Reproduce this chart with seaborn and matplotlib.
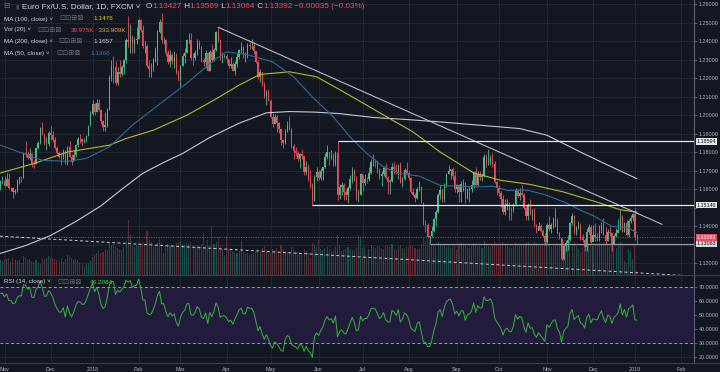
import numpy as np
import pandas as pd
import seaborn as sns
import matplotlib.pyplot as plt
from matplotlib.lines import Line2D

# EUR/USD daily (FXCM), 30 Oct 2017 .. 3 Jan 2019, prices in pips: 1645 -> 1.1645
first_open = 1607
close_pips = (
    [1645, 1646] +
    [1620, 1655, 1608, 1609, 1586, 1591, 1642, 1664, 1663, 1795, 1793, 1770, 1792, 1737, 1736, 1821, 1851, 1933, 1896, 1843, 1846, 1904] +
    [1893, 1866, 1825, 1796, 1774, 1772, 1804, 1743, 1828, 1776, 1749, 1784, 1838, 1874, 1872, 1858, 1859, 1888, 1942, 2005] +
    [2059, 2016, 2067, 2030, 1967, 1937, 1950, 2034, 2200, 2264, 2262, 2177, 2236, 2222, 2261, 2300, 2409, 2396, 2427, 2385, 2409, 2413] +
    [2513, 2461, 2372, 2373, 2265, 2249, 2255, 2294, 2352, 2450, 2505, 2406, 2407, 2337, 2287, 2328, 2295, 2317, 2233, 2192] +
    [2268, 2318, 2336, 2408, 2409, 2312, 2309, 2335, 2391, 2371, 2301, 2290, 2337, 2241, 2340, 2300, 2353, 2448, 2406, 2307, 2321, 2322] +
    [2302, 2266, 2277, 2240, 2279, 2317, 2355, 2369, 2327, 2329, 2381, 2372, 2375, 2348, 2289, 2208, 2234, 2162, 2103, 2130, 2078] +
    [1991, 1953, 1990, 1960, 1923, 1864, 1850, 1917, 1941, 1925, 1835, 1809, 1796, 1766, 1790, 1779, 1694, 1720, 1655, 1622, 1538, 1664, 1692] +
    [1659, 1696, 1718, 1772, 1800, 1770, 1781, 1743, 1794, 1569, 1610, 1625, 1585, 1571, 1609, 1656, 1701, 1652, 1557, 1568, 1684] +
    [1633, 1656, 1655, 1689, 1745, 1748, 1742, 1706, 1670, 1684, 1713, 1660, 1640, 1643, 1720, 1711, 1685, 1729, 1637, 1657, 1702, 1690] +
    [1658, 1584, 1567, 1553, 1600, 1610, 1525, 1411, 1405, 1343, 1346, 1376, 1437, 1479, 1570, 1595, 1539, 1622, 1680, 1701, 1707, 1669, 1601] +
    [1622, 1584, 1627, 1627, 1553, 1595, 1602, 1625, 1691, 1625, 1684, 1668, 1670, 1775, 1749, 1751, 1765, 1739, 1639, 1604] +
    [1578, 1549, 1478, 1513, 1522, 1491, 1490, 1521, 1595, 1561, 1580, 1571, 1501, 1453, 1512, 1465, 1467, 1405, 1375, 1401, 1374, 1345, 1312] +
    [1408, 1385, 1407, 1430, 1433, 1362, 1335, 1224, 1291, 1311, 1325, 1419, 1456, 1369, 1389, 1402, 1339, 1328, 1290, 1369, 1394, 1317] +
    [1352, 1343, 1340, 1376, 1406, 1353, 1318, 1368, 1364, 1305, 1347, 1361, 1379, 1450, 1371, 1418, 1354, 1430, 1443, 1466] +
    [1343, 1339]
)
high_pips = (
    [1652, 1670] +
    [1669, 1688, 1680, 1613, 1613, 1601, 1653, 1668, 1669, 1800, 1861, 1804, 1821, 1796, 1756, 1831, 1859, 1937, 1961, 1899, 1884, 1915] +
    [1940, 1913, 1883, 1836, 1804, 1795, 1816, 1811, 1834, 1863, 1792, 1812, 1844, 1880, 1898, 1878, 1875, 1894, 1949, 2023] +
    [2082, 2066, 2089, 2090, 2035, 1976, 2017, 2037, 2219, 2297, 2323, 2296, 2261, 2297, 2274, 2306, 2416, 2537, 2494, 2436, 2422, 2476] +
    [2523, 2518, 2486, 2404, 2386, 2298, 2281, 2307, 2370, 2461, 2520, 2555, 2424, 2415, 2355, 2354, 2335, 2350, 2336, 2247] +
    [2273, 2336, 2365, 2414, 2446, 2447, 2337, 2355, 2413, 2407, 2376, 2309, 2355, 2342, 2351, 2388, 2365, 2455, 2476, 2411, 2340, 2330] +
    [2329, 2305, 2317, 2290, 2292, 2336, 2361, 2396, 2377, 2343, 2392, 2397, 2414, 2395, 2350, 2298, 2251, 2236, 2182, 2135, 2140] +
    [2086, 2011, 2008, 2000, 1966, 1927, 1872, 1927, 1967, 1996, 1930, 1842, 1831, 1806, 1798, 1817, 1781, 1750, 1736, 1702, 1635, 1675, 1722] +
    [1706, 1716, 1722, 1796, 1840, 1802, 1812, 1796, 1808, 1859, 1628, 1639, 1631, 1601, 1619, 1675, 1719, 1710, 1674, 1597, 1690] +
    [1675, 1681, 1665, 1719, 1765, 1791, 1766, 1757, 1716, 1696, 1723, 1743, 1672, 1653, 1742, 1747, 1738, 1739, 1747, 1665, 1713, 1746] +
    [1701, 1667, 1609, 1577, 1611, 1643, 1619, 1532, 1434, 1415, 1350, 1402, 1445, 1486, 1581, 1622, 1601, 1635, 1690, 1733, 1710, 1718, 1700] +
    [1627, 1629, 1644, 1655, 1641, 1608, 1613, 1649, 1700, 1722, 1696, 1697, 1689, 1788, 1791, 1815, 1786, 1794, 1750, 1647] +
    [1623, 1588, 1571, 1546, 1547, 1531, 1506, 1527, 1609, 1600, 1606, 1621, 1578, 1510, 1528, 1546, 1494, 1497, 1413, 1424, 1412, 1384, 1362] +
    [1420, 1456, 1419, 1448, 1500, 1443, 1369, 1337, 1302, 1326, 1354, 1422, 1472, 1461, 1401, 1429, 1418, 1360, 1338, 1388, 1411, 1405] +
    [1406, 1419, 1364, 1407, 1424, 1443, 1394, 1384, 1403, 1370, 1358, 1392, 1440, 1487, 1460, 1421, 1432, 1439, 1458, 1470] +
    [1497, 1357]
)
low_pips = (
    [1598, 1628] +
    [1613, 1618, 1603, 1589, 1554, 1573, 1587, 1628, 1639, 1663, 1775, 1763, 1760, 1722, 1715, 1734, 1819, 1843, 1891, 1839, 1812, 1835] +
    [1868, 1853, 1818, 1790, 1768, 1729, 1762, 1736, 1729, 1774, 1730, 1759, 1774, 1830, 1852, 1832, 1850, 1853, 1887, 1941] +
    [2003, 2001, 2016, 2022, 1953, 1915, 1916, 1936, 2028, 2186, 2172, 2165, 2164, 2206, 2212, 2223, 2282, 2371, 2335, 2339, 2334, 2383] +
    [2414, 2448, 2365, 2338, 2262, 2206, 2206, 2241, 2286, 2273, 2446, 2393, 2388, 2321, 2279, 2260, 2279, 2258, 2223, 2183] +
    [2155, 2264, 2281, 2334, 2390, 2301, 2273, 2301, 2326, 2359, 2289, 2269, 2258, 2240, 2238, 2287, 2292, 2345, 2396, 2299, 2285, 2307] +
    [2285, 2254, 2253, 2238, 2215, 2263, 2304, 2334, 2311, 2287, 2309, 2360, 2356, 2332, 2280, 2198, 2182, 2159, 2094, 2055, 2075] +
    [1984, 1939, 1953, 1910, 1906, 1839, 1822, 1843, 1909, 1922, 1821, 1762, 1781, 1750, 1716, 1765, 1676, 1676, 1645, 1608, 1515, 1534, 1642] +
    [1648, 1651, 1652, 1713, 1762, 1729, 1766, 1727, 1724, 1541, 1548, 1571, 1540, 1541, 1525, 1595, 1631, 1646, 1539, 1530, 1570] +
    [1591, 1625, 1633, 1642, 1680, 1724, 1722, 1690, 1657, 1615, 1674, 1655, 1573, 1575, 1637, 1685, 1682, 1654, 1631, 1612, 1650, 1680] +
    [1648, 1578, 1562, 1529, 1545, 1590, 1524, 1407, 1366, 1335, 1306, 1342, 1366, 1402, 1470, 1549, 1530, 1531, 1610, 1685, 1653, 1649, 1587] +
    [1580, 1529, 1532, 1593, 1526, 1549, 1529, 1584, 1609, 1620, 1620, 1651, 1642, 1666, 1722, 1733, 1731, 1721, 1633, 1569] +
    [1562, 1505, 1464, 1463, 1488, 1432, 1433, 1479, 1515, 1556, 1541, 1565, 1494, 1432, 1431, 1459, 1434, 1394, 1363, 1377, 1367, 1339, 1300] +
    [1311, 1376, 1365, 1391, 1398, 1359, 1331, 1216, 1216, 1266, 1269, 1322, 1404, 1358, 1355, 1384, 1325, 1312, 1265, 1268, 1358, 1308] +
    [1337, 1320, 1318, 1321, 1361, 1350, 1306, 1320, 1345, 1268, 1302, 1341, 1362, 1390, 1367, 1369, 1348, 1342, 1418, 1427] +
    [1325, 1306]
)
volume_k = (
    [150, 140] +
    [150, 160, 170, 130, 170, 150, 140, 150, 120, 190, 180, 150, 160, 140, 130, 150, 120, 110, 170, 160, 170, 190] +
    [180, 170, 160, 150, 140, 170, 130, 160, 200, 190, 170, 150, 160, 150, 130, 120, 80, 110, 120, 140] +
    [180, 200, 220, 240, 220, 230, 260, 250, 330, 300, 310, 280, 270, 260, 250, 280, 340, 550, 400, 290, 280, 300] +
    [320, 300, 330, 310, 440, 350, 330, 280, 300, 320, 360, 330, 220, 300, 310, 290, 280, 300, 320, 330] +
    [340, 310, 300, 320, 310, 330, 300, 280, 300, 290, 310, 420, 290, 350, 300, 490, 310, 330, 380, 300, 260, 200] +
    [390, 260, 250, 240, 230, 220, 240, 340, 230, 210, 220, 200, 210, 220, 240, 260, 230, 270, 290, 250, 230] +
    [220, 260, 250, 270, 240, 300, 260, 240, 230, 220, 280, 260, 240, 230, 210, 220, 260, 240, 220, 170, 320, 300, 280] +
    [350, 260, 250, 270, 280, 260, 240, 250, 280, 400, 300, 240, 250, 260, 280, 260, 250, 240, 270, 400, 380] +
    [270, 280, 200, 260, 300, 280, 270, 290, 280, 270, 260, 290, 300, 280, 310, 260, 250, 280, 300, 270, 260, 280] +
    [280, 300, 290, 270, 260, 270, 310, 370, 340, 360, 350, 300, 290, 280, 330, 310, 290, 300, 280, 290, 270, 280, 300] +
    [250, 300, 320, 290, 310, 280, 270, 290, 320, 300, 280, 290, 270, 340, 300, 290, 280, 300, 330, 310] +
    [300, 310, 330, 300, 290, 280, 270, 290, 320, 300, 290, 300, 310, 320, 330, 300, 290, 330, 320, 310, 300, 290, 330] +
    [340, 300, 280, 290, 310, 320, 300, 370, 340, 320, 330, 340, 300, 330, 290, 260, 220, 280, 300, 330, 320, 330] +
    [290, 310, 300, 320, 310, 300, 320, 310, 290, 300, 280, 270, 290, 330, 300, 140, 120, 260, 240, 160] +
    [300, 40]
)
# closes 9..27 Oct 2017, only used to warm up the RSI
warmup_pips = [1736, 1810, 1857, 1823, 1822, 1794, 1766, 1789, 1823, 1785, 1758, 1762, 1814, 1652, 1607]

# moving averages (bar number, value)
ma50_bar = [0, 9, 20, 32, 41, 52, 63, 76, 89, 102, 108, 117, 130, 140, 149, 159, 167, 175, 183, 191, 200,
            210, 218, 229, 235, 242, 252, 261, 271, 277, 283, 292, 299, 304]
ma50 = [1.1838, 1.1801, 1.1756, 1.1751, 1.1766, 1.1829, 1.1946, 1.2060, 1.2173, 1.2298, 1.2343, 1.2330,
        1.2289, 1.2208, 1.2099, 1.1991, 1.1883, 1.1793, 1.1720, 1.1684, 1.1671, 1.1621, 1.1616, 1.1612,
        1.1616, 1.1594, 1.1594, 1.1567, 1.1522, 1.1486, 1.1458, 1.1399, 1.1395, 1.1366]
ma100_bar = [0, 16, 32, 52, 60, 73, 89, 102, 114, 124, 138, 151, 161, 175, 185, 197, 210, 226, 239, 253,
             269, 285, 296, 304]
ma100 = [1.1688, 1.1739, 1.1801, 1.1838, 1.1874, 1.1919, 1.2000, 1.2082, 1.2163, 1.2221, 1.2235, 1.2208,
         1.2145, 1.2054, 1.1988, 1.1910, 1.1801, 1.1688, 1.1648, 1.1626, 1.1585, 1.1530, 1.1489, 1.1476]
ma200_bar = [0, 12, 24, 36, 48, 58, 68, 78, 87, 100, 114, 127, 138, 150, 162, 178, 194, 210, 229, 248, 261,
             277, 292, 304]
ma200 = [1.1253, 1.1295, 1.1350, 1.1425, 1.1510, 1.1600, 1.1686, 1.1745, 1.1793, 1.1880, 1.1957, 1.2013,
         1.2020, 1.2017, 1.2009, 1.1988, 1.1977, 1.1964, 1.1946, 1.1928, 1.1892, 1.1801, 1.1720, 1.1657]

# drawings
trend_pts = [("2018-03-27", 1.2476), ("2019-01-21", 1.1410)]
dashed_pts = [("2017-10-30", 1.1346), ("2019-01-03", 1.1148)]
levels = [("2018-06-14", 1.18594), ("2018-05-29", 1.15146), ("2018-08-15", 1.13063)]
last_price = 1.13392

holidays = pd.to_datetime(["2017-12-25", "2018-01-01", "2018-12-25", "2019-01-01"])
days = pd.bdate_range("2017-10-30", "2019-02-28")
days = days[~days.isin(holidays)]
pos = {d: i for i, d in enumerate(days)}

n = len(close_pips)
x = np.arange(n)
close = 1 + np.array(close_pips) / 1e4
high = 1 + np.array(high_pips) / 1e4
low = 1 + np.array(low_pips) / 1e4
opn = np.r_[1 + first_open / 1e4, close[:-1]]

# RSI(14) with Wilder smoothing
c_all = pd.Series(1 + np.r_[warmup_pips, close_pips] / 1e4)
d = c_all.diff()
up = d.clip(lower=0).ewm(alpha=1 / 14, adjust=False).mean()
dn = (-d.clip(upper=0)).ewm(alpha=1 / 14, adjust=False).mean()
rsi = (100 - 100 / (1 + up / dn)).iloc[len(warmup_pips):].to_numpy()

# month ticks
ticks, labels = [], []
for (yy, mm), grp in pd.Series(np.arange(len(days)), index=days).groupby([days.year, days.month]):
    if days[grp.iloc[0]].day > 5:
        continue
    ticks.append(grp.iloc[0])
    labels.append(str(yy) if mm == 1 else days[grp.iloc[0]].strftime("%b"))

BG = "#131722"
GRID = "#262a35"
TXT = "#b2b5be"
UP = "#53b987"
DOWN = "#eb4d5c"

sns.set_theme(style="dark", rc={"axes.facecolor": BG, "figure.facecolor": BG})
plt.rcParams["font.family"] = ["Liberation Sans", "DejaVu Sans"]

W, H = 720, 372
fig = plt.figure(figsize=(7.2, 3.72), dpi=100)
ax = fig.add_axes([0, 1 - 274.5 / H, 694 / W, 274.5 / H])
axr = fig.add_axes([0, 1 - 362.7 / H, 694 / W, 87.2 / H])

bar_px = 2.094
xlim = (-0.4 / bar_px, (694 - 0.4) / bar_px)

for a in (ax, axr):
    a.set_facecolor(BG)
    a.set_xlim(*xlim)
    a.set_xticks(ticks)
    a.grid(True, color=GRID, lw=0.6)
    a.set_axisbelow(True)
    for s in ("top", "left", "bottom"):
        a.spines[s].set_visible(False)
    a.spines["right"].set_color("#5d606b")
    a.spines["right"].set_linewidth(0.8)
    a.yaxis.tick_right()
    a.tick_params(axis="y", length=2, width=0.5, color="#787b86", pad=1.5, labelsize=3.9, labelcolor=TXT)

# ---- price pane ----
ax.set_ylim(1.11388, 1.26233)
grid_prices = np.round(np.arange(1.12, 1.265, 0.01), 2)
ax.set_yticks(grid_prices)
# 1.13 and 1.15 sit under the level boxes on the scale
ax.set_yticklabels(["" if v in (1.13, 1.15) else f"{v:.5f}" for v in grid_prices])
ax.tick_params(axis="x", length=0, labelbottom=False)

rising = close >= opn
col = np.where(rising, UP, DOWN)
vol_col = np.where(rising, "#1a504e", "#5e2834")
ax.bar(x, np.array(volume_k) / 2745, bottom=0, width=0.5, color=vol_col, lw=0,
       transform=ax.get_xaxis_transform(), zorder=1)

ax.axhline(last_price, color=DOWN, lw=0.7, ls=(0, (1, 1.5)), alpha=0.8, zorder=2)
ax.vlines(x, low, high, colors=col, lw=0.6, zorder=3)
body = np.maximum(np.abs(close - opn), 0.00012)
ax.bar(x, body, bottom=np.minimum(opn, close), width=0.62, color=col, lw=0, zorder=3)

sns.lineplot(x=ma200_bar, y=ma200, ax=ax, color="#c9cacf", lw=0.8, zorder=4)
sns.lineplot(x=ma100_bar, y=ma100, ax=ax, color="#b8b82a", lw=0.8, zorder=4)
sns.lineplot(x=ma50_bar, y=ma50, ax=ax, color="#2f6b96", lw=0.8, zorder=4)

(d1, p1), (d2, p2) = trend_pts
ax.plot([pos[pd.Timestamp(d1)], pos[pd.Timestamp(d2)]], [p1, p2], color="#b8bbc4", lw=0.8, zorder=5)
(d1, p1), (d2, p2) = dashed_pts
i1, i2 = pos[pd.Timestamp(d1)], pos[pd.Timestamp(d2)]
k = (p2 - p1) / (i2 - i1)
ax.plot(xlim, [p1 + k * (xlim[0] - i1), p1 + k * (xlim[1] - i1)], color="#c8cad0", lw=0.7,
        ls=(0, (3, 2.5)), zorder=5)
for (dd, p), c in zip(levels, ["#e6e7ea", "#e6e7ea", "#9598a1"]):
    ax.hlines(p, pos[pd.Timestamp(dd)], xlim[1], color=c, lw=0.9, zorder=5)

tr = ax.get_yaxis_transform()
for p, fc, tc in [(levels[0][1], "#e6e7ea", BG), (levels[1][1], "#e6e7ea", BG),
                  (levels[2][1], "#d6d7db", BG), (last_price, DOWN, "white")]:
    ax.text(1.004, p, f"{p:.5f}", transform=tr, ha="left", va="center", fontsize=3.9, color=tc,
            zorder=10, clip_on=False,
            bbox=dict(boxstyle="square,pad=0.18", fc=fc, ec="none"))

# ---- RSI pane ----
axr.set_ylim(16.2, 77.9)
axr.axhspan(30, 70, color="#221b3c", zorder=0.6)
for lv in (70, 30):
    axr.axhline(lv, color="#9a9da6", lw=0.7, ls=(0, (3, 2.5)), zorder=2)
sns.lineplot(x=x, y=rsi, ax=axr, color="#36b43c", lw=0.7, zorder=3)
axr.set_yticks([20, 30, 40, 50, 60, 70])
axr.set_yticklabels([f"{v:.4f}" for v in [20, 30, 40, 50, 60, 70]])
axr.set_xticklabels(labels)
axr.tick_params(axis="x", length=0, pad=3, labelsize=3.9, labelcolor=TXT)
for a in (ax, axr):
    a.set_xlabel("")
    a.set_ylabel("")

# pane separators
for yy in (275, 362.7):
    fig.add_artist(Line2D([0, 1], [1 - yy / H, 1 - yy / H], color="#3a3e4a", lw=0.8))

# ---- legend texts ----
rend = fig.canvas.get_renderer()


def chain(x0, y0, parts, size):
    xx = x0
    for s, c in parts:
        t = fig.text(xx / W, 1 - y0 / H, s, color=c, fontsize=size, ha="left", va="center")
        xx = t.get_window_extent(renderer=rend).x1


WHITE = "#d1d4dc"
ICON = "#6a6d78"
fig.text(3 / W, 1 - 7 / H, "⊟", color=ICON, fontsize=5.5, va="center")
fig.text(15 / W, 1 - 7 / H, "▮", color="#4a4d57", fontsize=4.5, va="center")
chain(22, 7, [("Euro Fx/U.S. Dollar, 1D, FXCM ˅", WHITE)], 5.9)
chain(146, 7, [("O", WHITE), ("1.13427", DOWN), (" H", WHITE), ("1.13569", DOWN), (" L", WHITE),
               ("1.13064", DOWN), (" C", WHITE), ("1.13392", DOWN), (" −0.00035 (−0.03%)", DOWN)], 5.9)

rows = [
    (19, "MA (100, close) ˅", 59, 93, [("1.1476", "#d8d820")]),
    (30, "Vol (20) ˅", 37, 71, [("39.975K", "#ef5350"), ("  333.909K", "#f0a050")]),
    (41.7, "MA (200, close) ˅", 58, 93, [("1.1657", WHITE)]),
    (53.3, "MA (50, close) ˅", 56, 90, [("1.1366", "#3a7ab0")]),
    (282, "RSI (14, close) ˅", 57, 90, [("46.2084", "#3fd43f")]),
]
for yy, name, xi, xv, vals in rows:
    fig.text(4 / W, 1 - yy / H, name, color=WHITE, fontsize=4.5, va="center")
    fig.text(xi / W, 1 - yy / H, "⊡⊡⊞⊠", color=ICON, fontsize=5.2, va="center")
    chain(xv, yy, vals, 4.6)

fig.savefig("out.png", dpi=100, facecolor=BG)
